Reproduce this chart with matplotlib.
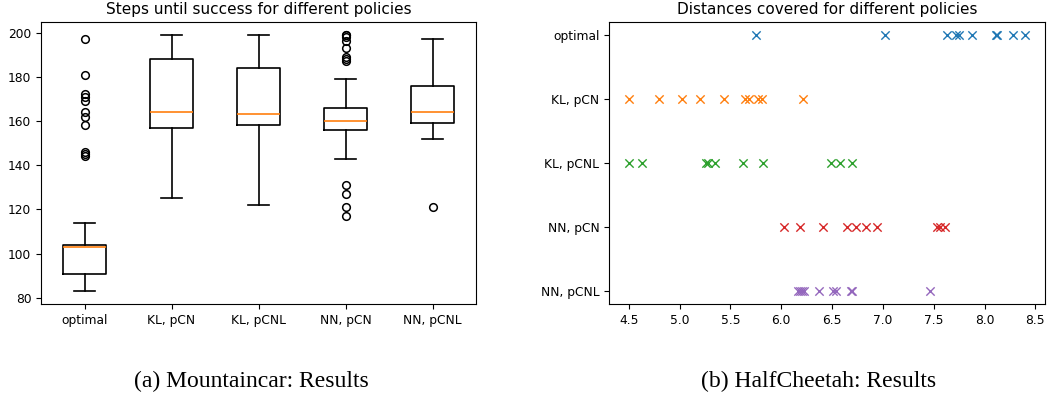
import matplotlib
matplotlib.use("Agg")
import matplotlib.pyplot as plt

# left panel: box statistics per policy
policies = ["optimal", "KL, pCN", "KL, pCNL", "NN, pCN", "NN, pCNL"]
med = [103, 164, 163, 160, 164]
q1 = [91, 157, 158, 156, 159]
q3 = [104, 188, 184, 166, 176]
whislo = [83, 125, 122, 143, 152]
whishi = [114, 199, 199, 179, 197]
fliers = [
    [197, 181, 172, 171, 169, 164, 162, 158, 146, 145, 144],
    [],
    [],
    [199, 199, 198, 196, 193, 189, 188, 187, 131, 127, 121, 117],
    [121],
]

# right panel: distance covered per run
dist_optimal = [5.75, 7.02, 7.63, 7.72, 7.75, 7.88, 8.11, 8.12, 8.28, 8.40]
dist_kl_pcn = [4.50, 4.80, 5.02, 5.20, 5.44, 5.64, 5.68, 5.77, 5.81, 6.21]
dist_kl_pcnl = [4.50, 4.63, 5.26, 5.28, 5.35, 5.62, 5.82, 6.49, 6.58, 6.70]
dist_nn_pcn = [6.03, 6.18, 6.41, 6.65, 6.74, 6.83, 6.94, 7.53, 7.56, 7.61]
dist_nn_pcnl = [6.16, 6.18, 6.20, 6.22, 6.37, 6.51, 6.54, 6.69, 6.70, 7.46]
distances = [dist_optimal, dist_kl_pcn, dist_kl_pcnl, dist_nn_pcn, dist_nn_pcnl]

plt.rcParams["font.size"] = 8.8

fig = plt.figure(figsize=(10.47, 3.98), dpi=100)
W, H = 1047, 398
ax1 = fig.add_axes([41 / W, (H - 304) / H, 435 / W, 282 / H])
ax2 = fig.add_axes([609 / W, (H - 304) / H, 436 / W, 282 / H])

stats = []
for i, name in enumerate(policies):
    stats.append(dict(label=name, med=med[i], q1=q1[i], q3=q3[i],
                      whislo=whislo[i], whishi=whishi[i], fliers=fliers[i]))
lw = dict(linewidth=1.2)
ax1.bxp(stats, boxprops=lw, whiskerprops=lw, capprops=lw,
        medianprops=dict(linewidth=1.2, color="C1"),
        flierprops=dict(marker="o", markersize=5.5, markerfacecolor="none",
                        markeredgecolor="black", markeredgewidth=1.1))
ax1.set_title("Steps until success for different policies", fontsize=11)

for i, name in enumerate(policies):
    ax2.scatter(distances[i], [name] * len(distances[i]), marker="x", s=36,
                color=f"C{i}", linewidths=1.0)
ax2.invert_yaxis()
ax2.set_title("Distances covered for different policies", fontsize=11)

fig.text(251 / W, 1 - 381 / H, "(a) Mountaincar: Results", ha="center", va="center",
         family="Liberation Serif", fontsize=17)
fig.text(819 / W, 1 - 381 / H, "(b) HalfCheetah: Results", ha="center", va="center",
         family="Liberation Serif", fontsize=17)

fig.savefig("out.png", dpi=100)
